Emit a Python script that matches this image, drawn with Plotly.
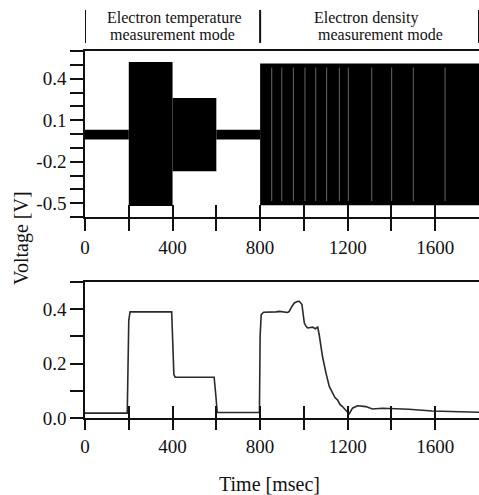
import plotly.graph_objects as go

# ---------------- data ----------------
# Top panel: probe voltage envelope per operating segment
seg_start = [0, 200, 400, 600, 800]
seg_end = [200, 400, 600, 800, 1800]
seg_upper = [0.03, 0.52, 0.26, 0.03, 0.51]
seg_lower = [-0.04, -0.52, -0.27, -0.04, -0.515]
# short dropouts visible inside the density-mode burst
gap_times = [853, 899, 952, 1005, 1054, 1104, 1162, 1203, 1310, 1401, 1500, 1645]

# Bottom panel: measured voltage trace
time_ms = [0, 193, 200, 206, 396, 402, 406, 412, 590, 598, 604, 797, 800, 805,
           816, 873, 888, 926, 933, 946, 956, 970, 979, 991, 1002, 1010, 1017,
           1040, 1052, 1063, 1070, 1085, 1093, 1101, 1116, 1131, 1142, 1154,
           1165, 1176, 1195, 1207, 1222, 1245, 1283, 1313, 1359, 1404, 1480,
           1586, 1800]
volt = [0.018, 0.018, 0.36, 0.39, 0.39, 0.25, 0.16, 0.15, 0.15, 0.08, 0.02,
        0.02, 0.30, 0.38, 0.389, 0.39, 0.392, 0.388, 0.392, 0.411, 0.423,
        0.428, 0.429, 0.417, 0.349, 0.337, 0.331, 0.334, 0.328, 0.334, 0.306,
        0.226, 0.19, 0.165, 0.116, 0.091, 0.075, 0.066, 0.05, 0.042, 0.027,
        0.015, 0.036, 0.045, 0.042, 0.033, 0.036, 0.035, 0.032, 0.026, 0.021]

# ticks
x_tickvals = [0, 200, 400, 600, 800, 1000, 1200, 1400, 1600]
x_ticktext = ["0", "", "400", "", "800", "", "1200", "", "1600"]
top_tickvals = [-0.6, -0.5, -0.4, -0.3, -0.2, -0.1, 0.0, 0.1, 0.2, 0.3, 0.4, 0.5, 0.6]
top_ticktext = ["", "-0.5", "", "", "-0.2", "", "", "0.1", "", "", "0.4", "", ""]
bot_tickvals = [0.0, 0.1, 0.2, 0.3, 0.4, 0.5]
bot_ticktext = ["0.0", "", "0.2", "", "0.4", ""]

mode_bounds = [0, 800, 1800]
mode_line1 = ["Electron temperature", "Electron density"]
mode_line2 = ["measurement mode", "measurement mode"]

# ---------------- figure ----------------
FONT = "Liberation Serif"
INK = "#111111"

fig = go.Figure()

mid = [(a + b) / 2 for a, b in zip(seg_start, seg_end)]
wid = [b - a for a, b in zip(seg_start, seg_end)]
hgt = [u - l for u, l in zip(seg_upper, seg_lower)]
fig.add_trace(go.Bar(x=mid, y=hgt, base=seg_lower, width=wid,
                     marker=dict(color="black", line=dict(width=0)),
                     xaxis="x", yaxis="y", showlegend=False, hoverinfo="skip"))

# dropouts as thin light lines
last_u, last_l = seg_upper[-1], seg_lower[-1]
gx, gy = [], []
for t in gap_times:
    gx += [t, t, None]
    gy += [last_l + 0.03, last_u - 0.03, None]
fig.add_trace(go.Scatter(x=gx, y=gy, mode="lines",
                         line=dict(color="rgba(255,255,255,0.4)", width=1),
                         xaxis="x", yaxis="y", showlegend=False, hoverinfo="skip"))

fig.add_trace(go.Scatter(x=time_ms, y=volt, mode="lines",
                         line=dict(color="#2a2a2a", width=1.6),
                         xaxis="x2", yaxis="y2", showlegend=False))

# invisible helpers for the inner-tick overlay axes
fig.add_trace(go.Scatter(x=time_ms, y=[0] * len(time_ms), mode="lines",
                         line=dict(width=0), opacity=0, xaxis="x3", yaxis="y",
                         showlegend=False, hoverinfo="skip"))
fig.add_trace(go.Scatter(x=time_ms, y=volt, mode="lines",
                         line=dict(width=0), opacity=0, xaxis="x4", yaxis="y2",
                         showlegend=False, hoverinfo="skip"))

tickfont = dict(family=FONT, size=19, color=INK)
xcommon = dict(range=[0, 1800], tickmode="array", tickvals=x_tickvals,
               showgrid=False, zeroline=False)

fig.update_layout(
    width=479, height=495,
    margin=dict(l=85, r=0, t=51, b=77),
    paper_bgcolor="white", plot_bgcolor="white",
    font=dict(family=FONT, color=INK),
    barmode="overlay",
    xaxis=dict(**xcommon, anchor="y", ticktext=x_ticktext, ticks="outside",
               ticklen=12, tickwidth=1.5, tickcolor=INK, showline=True,
               linecolor=INK, linewidth=1.5, mirror=True, tickfont=tickfont),
    xaxis3=dict(**xcommon, anchor="y", overlaying="x", ticks="inside",
                ticklen=12, tickwidth=1.5, tickcolor=INK, showticklabels=False,
                showline=False),
    yaxis=dict(domain=[0.5477, 1.0], range=[-0.6, 0.6], tickmode="array",
               tickvals=top_tickvals, ticktext=top_ticktext, ticks="outside",
               ticklen=13, tickwidth=1.5, tickcolor=INK, showline=True,
               linecolor=INK, linewidth=1.5, showgrid=False, zeroline=False,
               tickfont=tickfont),
    xaxis2=dict(**xcommon, anchor="y2", ticktext=x_ticktext, ticks="outside",
                ticklen=10, tickwidth=1.5, tickcolor=INK, showline=True,
                linecolor=INK, linewidth=1.5, mirror=True, tickfont=tickfont),
    xaxis4=dict(**xcommon, anchor="y2", overlaying="x2", ticks="inside",
                ticklen=12, tickwidth=1.5, tickcolor=INK, showticklabels=False,
                showline=False),
    yaxis2=dict(domain=[0.0, 0.3706], range=[0, 0.5], tickmode="array",
                tickvals=bot_tickvals, ticktext=bot_ticktext, ticks="outside",
                ticklen=13, tickwidth=1.5, tickcolor=INK, showline=True,
                linecolor=INK, linewidth=1.5, showgrid=False, zeroline=False,
                tickfont=tickfont),
)

# mode header: separators and labels
for b in mode_bounds:
    fig.add_shape(type="line", xref="x", yref="paper", x0=b, x1=b,
                  y0=1.022, y1=1.112, line=dict(color=INK, width=2))
shifts1 = [2, -4]
shifts2 = [0, 11]
for i in range(len(mode_line1)):
    c = (mode_bounds[i] + mode_bounds[i + 1]) / 2
    fig.add_annotation(x=c, y=1.09, xref="x", yref="paper", text=mode_line1[i],
                       showarrow=False, xanchor="center", yanchor="middle",
                       xshift=shifts1[i], font=dict(family=FONT, size=16, color=INK))
    fig.add_annotation(x=c, y=1.046, xref="x", yref="paper", text=mode_line2[i],
                       showarrow=False, xanchor="center", yanchor="middle",
                       xshift=shifts2[i], font=dict(family=FONT, size=16, color=INK))

# axis titles
fig.add_annotation(x=-0.16, y=0.4905, xref="paper", yref="paper", text="Voltage [V]",
                   textangle=-90, showarrow=False, xanchor="center", yanchor="middle",
                   font=dict(family=FONT, size=20, color=INK))
fig.add_annotation(x=0.4695, y=-0.18, xref="paper", yref="paper", text="Time [msec]",
                   showarrow=False, xanchor="center", yanchor="middle",
                   font=dict(family=FONT, size=20, color=INK))

fig.write_html("out.html", config={"displayModeBar": False},
               post_script="document.body.style.margin='0';document.body.style.padding='0';")
